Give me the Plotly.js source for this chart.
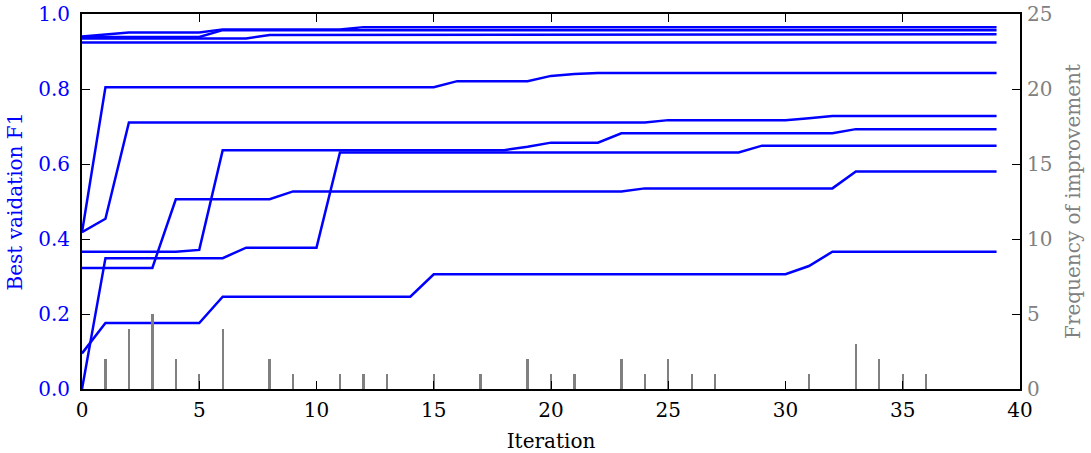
<!DOCTYPE html>
<html>
<head>
<meta charset="utf-8">
<script src="https://cdn.plot.ly/plotly-3.0.1.min.js"></script>
<style>html,body{margin:0;padding:0;background:#fff;}</style>
</head>
<body>
<div id="chart" style="width:1091px;height:453px;"></div>
<script>
// Iterations 0..39
const iterations = Array.from({length: 40}, (_, i) => i);

function rep(v, n) { return Array(n).fill(v); }

// Best validation F1 per run
const run1 = [0.940, 0.945].concat(rep(0.951, 4), rep(0.959, 6), rep(0.965, 28));
const run2 = rep(0.939, 6).concat(rep(0.957, 34));
const run3 = rep(0.935, 8).concat(rep(0.944, 7), rep(0.946, 25));
const run4 = rep(0.924, 40);
const run5 = [0.418].concat(rep(0.805, 15), rep(0.821, 4), [0.835, 0.840], rep(0.843, 18));
const run6 = [0.418, 0.454].concat(rep(0.711, 23), rep(0.717, 6), [0.722], rep(0.728, 8));
const run7 = rep(0.366, 5).concat([0.371], rep(0.637, 13), [0.646], rep(0.657, 3), rep(0.682, 10), rep(0.693, 7));
const run8 = [0.0].concat(rep(0.349, 6), rep(0.377, 4), rep(0.631, 18), rep(0.649, 11));
const run9 = rep(0.323, 4).concat(rep(0.506, 5), rep(0.527, 15), rep(0.535, 9), rep(0.580, 7));
const run10 = [0.095].concat(rep(0.176, 5), rep(0.246, 9), rep(0.306, 16), [0.328], rep(0.366, 8));
const runs = [run1, run2, run3, run4, run5, run6, run7, run8, run9, run10];

// Frequency of improvement
const freqX = [1, 2, 3, 4, 5, 6, 8, 9, 11, 12, 13, 15, 17, 19, 20, 21, 23, 24, 25, 26, 27, 31, 33, 34, 35, 36];
const freqY = [2, 4, 5, 2, 1, 4, 2, 1, 1, 1, 1, 1, 1, 2, 1, 1, 2, 1, 2, 1, 1, 1, 3, 2, 1, 1];

const FONT = 'DejaVu Serif, serif';
const BLUE = '#0000ff';
const GRAY = '#808080';

const traces = runs.map(r => ({
  x: iterations, y: r, type: 'scatter', mode: 'lines',
  line: {color: BLUE, width: 2.5}, yaxis: 'y', hoverinfo: 'skip', showlegend: false
}));
traces.push({
  x: freqX, y: freqY, type: 'bar', yaxis: 'y2', width: 0.1,
  marker: {color: GRAY, line: {width: 0}}, showlegend: false
});

const layout = {
  width: 1091, height: 453,
  margin: {l: 82, r: 71, t: 14, b: 64},
  paper_bgcolor: '#fff', plot_bgcolor: '#fff',
  font: {family: FONT, size: 20, color: '#000'},
  showlegend: false,
  xaxis: {
    range: [0, 40], dtick: 5, tick0: 0,
    ticks: 'inside', ticklen: 8, tickwidth: 1, tickcolor: '#000',
    showline: true, linewidth: 2, linecolor: '#000', mirror: 'ticks',
    showgrid: false, zeroline: false,
    tickfont: {family: FONT, size: 20, color: '#000'},
    ticklabelstandoff: 2,
    title: {text: 'Iteration', font: {family: FONT, size: 20, color: '#000'}, standoff: 14}
  },
  yaxis: {
    range: [0, 1], dtick: 0.2, tick0: 0, tickformat: '.1f',
    ticks: 'inside', ticklen: 8, tickwidth: 1, tickcolor: '#000',
    showline: true, linewidth: 2, linecolor: '#000', mirror: true,
    showgrid: false, zeroline: false,
    tickfont: {family: FONT, size: 20, color: BLUE},
    ticklabelstandoff: 6,
    title: {text: 'Best vaidation F1', font: {family: FONT, size: 20, color: BLUE}, standoff: 10}
  },
  yaxis2: {
    overlaying: 'y', side: 'right',
    range: [0, 25], dtick: 5, tick0: 0,
    ticks: 'inside', ticklen: 8, tickwidth: 1, tickcolor: '#000',
    showline: false, showgrid: false, zeroline: false,
    tickfont: {family: FONT, size: 20, color: GRAY},
    ticklabelstandoff: 6,
    title: {text: 'Frequency of improvement', font: {family: FONT, size: 20, color: GRAY}, standoff: 14}
  },
  bargap: 0
};

Plotly.newPlot('chart', traces, layout, {displayModeBar: false, staticPlot: true});
</script>
</body>
</html>
